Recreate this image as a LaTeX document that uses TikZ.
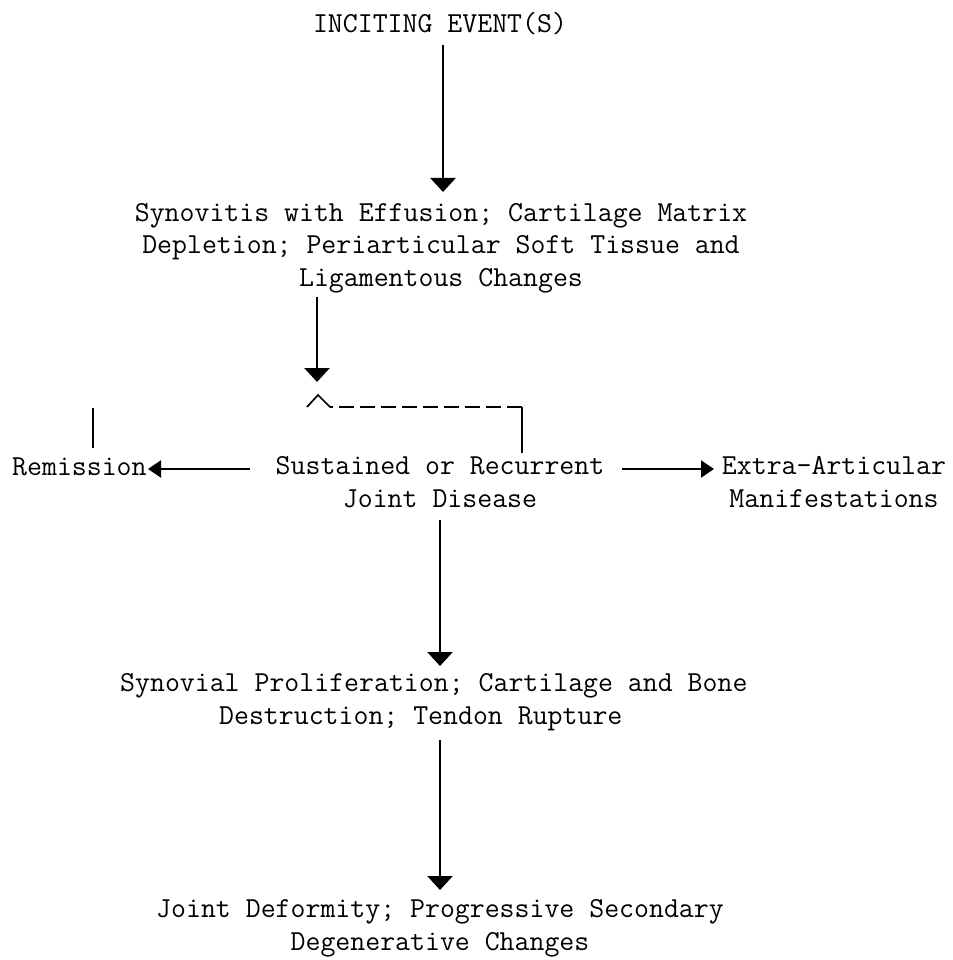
\documentclass[tikz,border=0pt]{standalone}
\usepackage{fontspec}
\usetikzlibrary{arrows.meta}
\newcommand{\typeset}{\fontsize{29}{32.5}\selectfont\ttfamily\addfontfeatures{FakeBold=1.2}}
\newcommand{\cols}[1]{\hspace*{#1\dimexpr0.525em\relax}}
\begin{document}
\begin{tikzpicture}[x=1pt,y=-1pt,
  txt/.style={font=\typeset, inner sep=0pt, align=center, anchor=base},
  txtl/.style={font=\typeset, inner sep=0pt, align=left, anchor=base west},
  flow/.style={line width=2.6pt, -{Triangle[width=25pt,length=14pt]}},
  side/.style={line width=2.2pt, -{Triangle[width=17pt,length=13pt]}},
  rule/.style={line width=2.2pt},
  loop/.style={line width=1.7pt, dash pattern=on 15pt off 6pt}
]
\useasboundingbox (0,0) rectangle (952,960);

% text blocks (base anchor = baseline of the last line)
\node[txt] (inc) at (440,33) {INCITING EVENT(S)};
\node[txt] (syn) at (441,286) {Synovitis with Effusion; Cartilage Matrix\\Depletion; Periarticular Soft Tissue and\\Ligamentous Changes};
\node[txtl] (rem) at (12,475) {Remission};
\node[txt] (sus) at (440,507) {Sustained or Recurrent\\Joint Disease};
\node[txt] (ext) at (834,507) {Extra-Articular\\Manifestations};
\node[txtl] (pro) at (120,724) {Synovial Proliferation; Cartilage and Bone\\\cols{6.5}Destruction; Tendon Rupture};
\node[txt] (def) at (440,950) {Joint Deformity; Progressive Secondary\\Degenerative Changes};

% connector end points
\coordinate (a1s) at (443,45);   \coordinate (a1e) at (443,192);
\coordinate (a2s) at (317,297);  \coordinate (a2e) at (317,382);
\coordinate (a3s) at (440,520);  \coordinate (a3e) at (440,666);
\coordinate (a4s) at (440,740);  \coordinate (a4e) at (440,890);
\coordinate (ls) at (250,469);   \coordinate (le) at (148,469);
\coordinate (rs) at (622,469);   \coordinate (re) at (714,469);

% main flow
\draw[flow] (a1s) -- (a1e);
\draw[flow] (a2s) -- (a2e);
\draw[flow] (a3s) -- (a3e);
\draw[flow] (a4s) -- (a4e);

% side branches
\draw[side] (ls) -- (le);
\draw[side] (rs) -- (re);

% recurrence loop
\coordinate (lpR) at (522,453);
\coordinate (lpC) at (522,407);
\coordinate (lpA) at (330,407);
\coordinate (cap) at (318,395);
\coordinate (capL) at (307,407);
\draw[rule] (lpR) -- (lpC);
\draw[loop] (lpC) -- (lpA);
\draw[line width=1.7pt, line join=miter] (capL) -- (cap) -- (lpA);
\coordinate (remT) at (93,408);
\coordinate (remB) at (93,448);
\draw[rule] (remT) -- (remB);
\end{tikzpicture}
\end{document}
